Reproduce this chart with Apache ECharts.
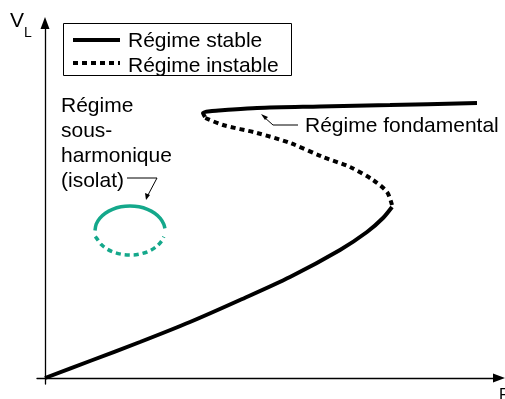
<!DOCTYPE html>
<html>
<head>
<meta charset="utf-8">
<script src="https://cdn.jsdelivr.net/npm/echarts@6.0.0/dist/echarts.min.js"></script>
<style>
  html, body { margin: 0; padding: 0; background: #fff; }
  #chart { width: 505px; height: 399px; }
</style>
</head>
<body>
<div id="chart"></div>
<script>
// points (F, V_L), unités arbitraires
var stableBas = [[0,0],[45,17],[95,36],[145,56],[195,78],[245,101],[295,128],[322,146],[338,160],[347,171]];
var instable = [[347,173],[342,186],[328,198],[305,211],[278,221],[245,235],[212,245],[178,253],[158,261]];
var stableHaut = [[160,261],[158,265],[167,267],[180,268],[212,270],[275,271.5],[345,273],[432,275]];
var isolatStable = [[50,147.5],[51.2,153.8],[54.7,159.7],[60.3,164.8],[67.5,168.7],[75.9,171.2],[85,172],
                    [94.1,171.2],[102.5,168.7],[109.7,164.8],[115.3,159.7],[118.8,153.8],[119.9,149.6]];
var isolatInstable = [[50.3,141.5],[52.1,139.1],[56.3,133.4],[62.5,128.7],[70.2,125.3],[78.9,123.4],[88,123.1],
                      [97,124.5],[105.1,127.4],[111.8,131.7],[116.7,137.1],[118.8,141.2]];

var police = 'Liberation Sans, Arial, sans-serif';
var sarcelle = '#14a88b';

var myChart = echarts.init(document.getElementById('chart'));

function texte(t, x, y, size) {
    return {
        type: 'text', silent: true,
        style: {
            text: t, x: x, y: y, fill: '#000',
            font: size + 'px ' + police,
            align: 'left', textAlign: 'left',
            verticalAlign: 'middle', textVerticalAlign: 'middle'
        }
    };
}

function courbe(data, color, dashed, width, smooth) {
    return {
        type: 'line', data: data, smooth: smooth, showSymbol: false, symbol: 'none',
        lineStyle: { color: color, width: width, type: dashed ? [5, 4] : 'solid', cap: 'butt' },
        silent: true
    };
}

option = {
    animation: false,
    grid: { left: 37, right: 6, top: 23, bottom: 15 },
    xAxis: {
        type: 'value', min: -8, max: 454,
        axisLine: { onZero: true, symbol: ['none', 'triangle'], symbolSize: [9, 12], lineStyle: { color: '#000', width: 1.3 } },
        axisTick: { show: false }, axisLabel: { show: false }, splitLine: { show: false }
    },
    yAxis: {
        type: 'value', min: -6, max: 355,
        axisLine: { onZero: true, symbol: ['none', 'triangle'], symbolSize: [9, 12], lineStyle: { color: '#000', width: 1.3 } },
        axisTick: { show: false }, axisLabel: { show: false }, splitLine: { show: false }
    },
    series: [
        courbe(stableBas, '#000', false, 4, 0.3),
        courbe(instable, '#000', true, 4, 0.3),
        courbe(stableHaut, '#000', false, 4, 0.3),
        courbe(isolatStable, sarcelle, false, 3.5, 0.3),
        courbe(isolatInstable, sarcelle, true, 3.5, 0.3)
    ],
    graphic: [
        // légende
        { type: 'rect', shape: { x: 63.5, y: 23.5, width: 228, height: 52 }, style: { fill: '#fff', stroke: '#000', lineWidth: 1 }, z: 10 },
        { type: 'line', shape: { x1: 73, y1: 40, x2: 120, y2: 40 }, style: { stroke: '#000', lineWidth: 4 }, z: 11 },
        { type: 'line', shape: { x1: 73, y1: 63, x2: 120, y2: 63 }, style: { stroke: '#000', lineWidth: 4, lineDash: [5, 4] }, z: 11 },
        Object.assign(texte('Régime stable', 128, 41, 21), { z: 11 }),
        Object.assign(texte('Régime instable', 128, 66, 21), { z: 11 }),
        // axes
        texte('V', 10, 21, 21),
        texte('L', 24, 33, 14),
        texte('F', 499, 396, 16),
        // annotations
        texte('Régime fondamental', 305, 126, 21),
        { type: 'polyline', shape: { points: [[298, 125], [273, 125], [264, 117]] }, style: { stroke: '#000', lineWidth: 1, fill: null } },
        { type: 'polygon', shape: { points: [[261, 114], [268, 117], [265, 120]] }, style: { fill: '#000' } },
        texte('Régime', 61, 106, 21),
        texte('sous-', 61, 131, 21),
        texte('harmonique', 61, 156, 21),
        texte('(isolat)', 61, 181, 21),
        { type: 'polyline', shape: { points: [[127, 178], [157, 178], [148, 195]] }, style: { stroke: '#000', lineWidth: 1, fill: null } },
        { type: 'polygon', shape: { points: [[146, 200], [145, 193], [150, 195]] }, style: { fill: '#000' } }
    ]
};

myChart.setOption(option);
</script>
</body>
</html>
